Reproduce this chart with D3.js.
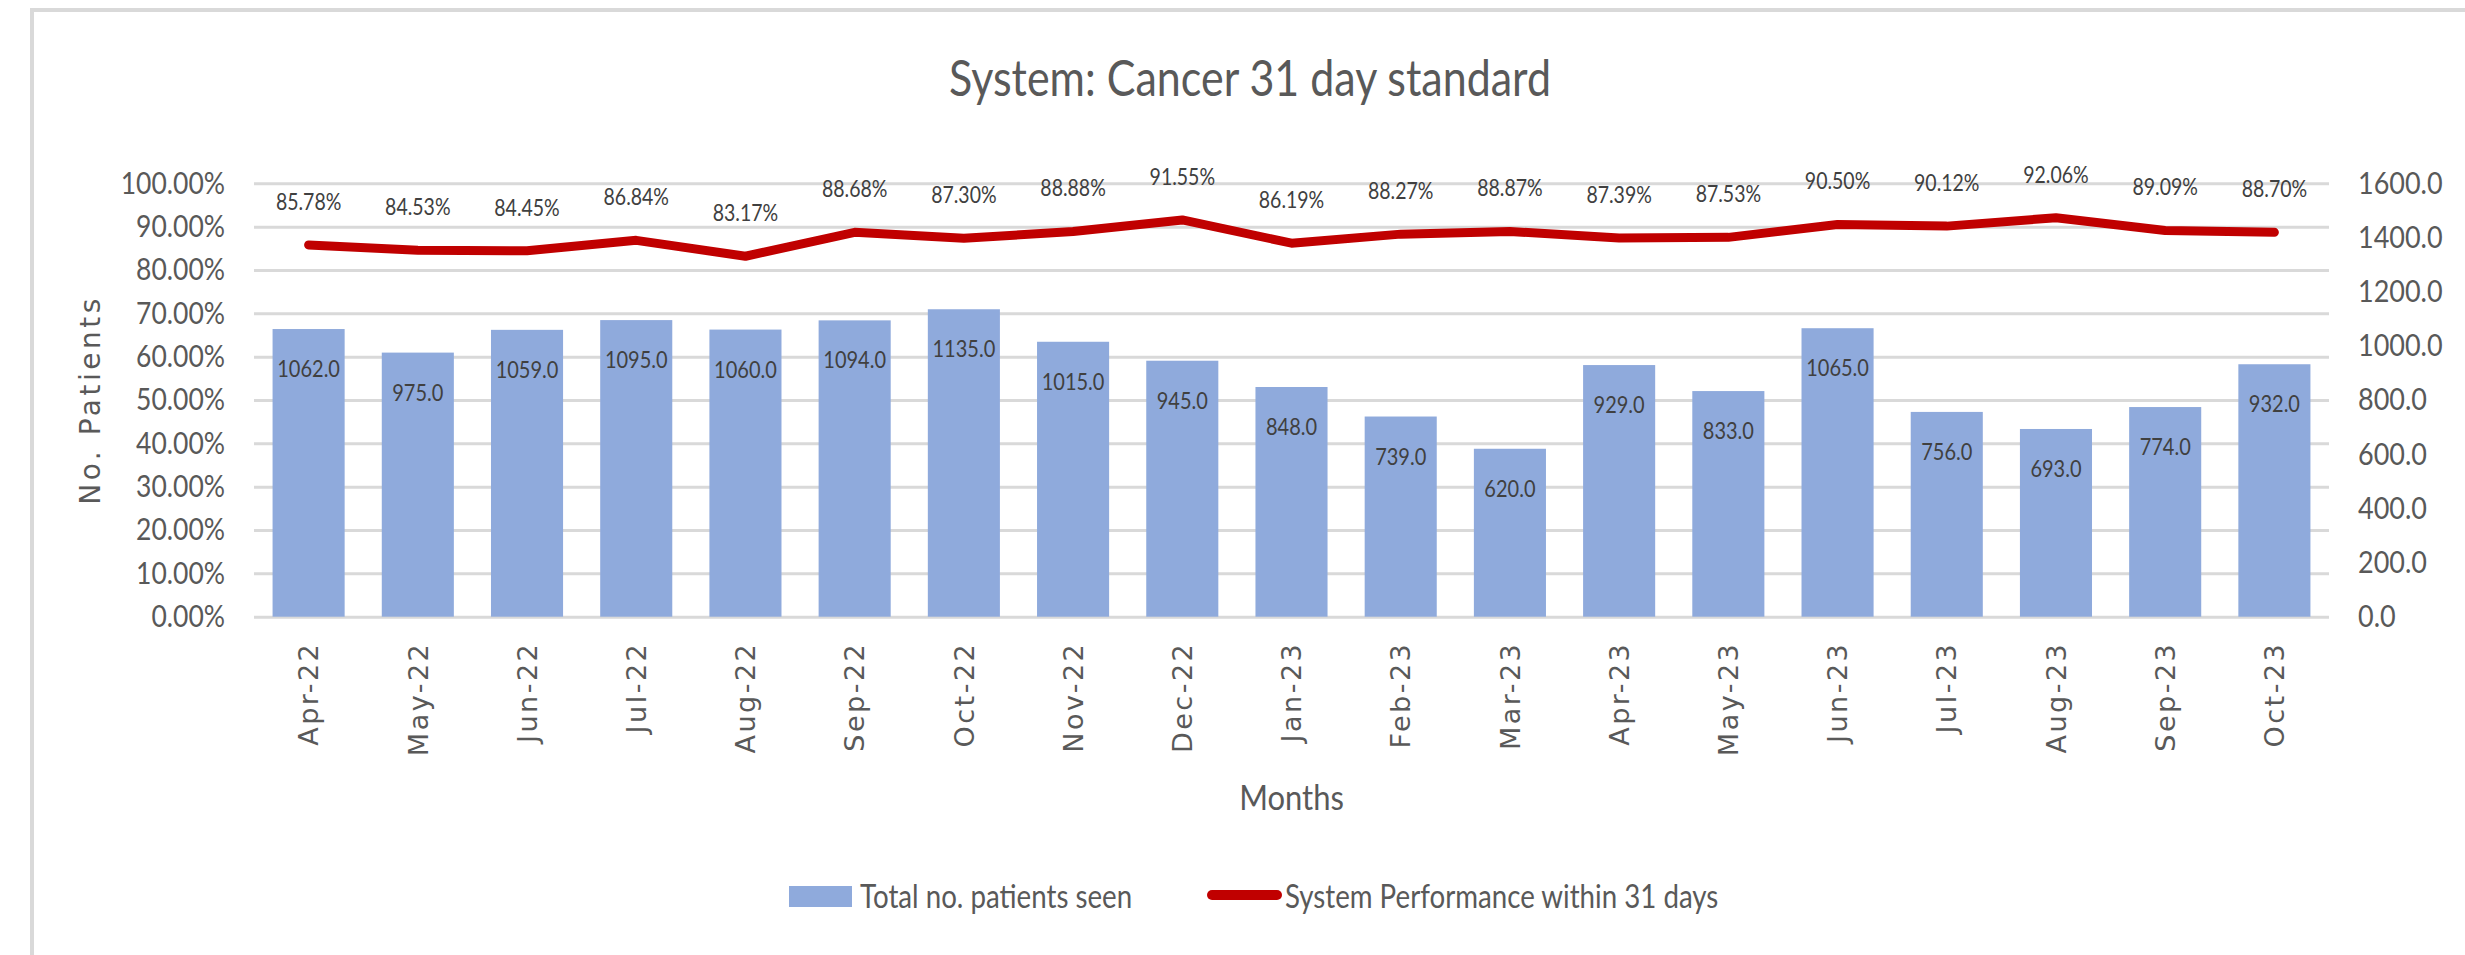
<!DOCTYPE html>
<html>
<head>
<meta charset="utf-8">
<script src="https://cdn.jsdelivr.net/npm/d3@7"></script>
<style>
  body { margin: 0; background: #fff; }
  svg text { font-family: Lato, "Open Sans", sans-serif; }
</style>
</head>
<body>
<div class="visiHolder"></div>
<script>
const months = ["Apr-22", "May-22", "Jun-22", "Jul-22", "Aug-22", "Sep-22", "Oct-22",
  "Nov-22", "Dec-22", "Jan-23", "Feb-23", "Mar-23", "Apr-23", "May-23", "Jun-23",
  "Jul-23", "Aug-23", "Sep-23", "Oct-23"];
const patients = [1062, 975, 1059, 1095, 1060, 1094, 1135, 1015, 945, 848, 739, 620,
  929, 833, 1065, 756, 693, 774, 932];
const performance = [85.78, 84.53, 84.45, 86.84, 83.17, 88.68, 87.30, 88.88, 91.55,
  86.19, 88.27, 88.87, 87.39, 87.53, 90.50, 90.12, 92.06, 89.09, 88.70];
const pctTicks = [0, 10, 20, 30, 40, 50, 60, 70, 80, 90, 100];
const countTicks = [0, 200, 400, 600, 800, 1000, 1200, 1400, 1600];

const width = 2465;
const height = 955;
const plotLeft = 254;
const plotRight = 2329;
const plotTop = 183.3;
const plotBottom = 616.7;
const stretch = 1.15; // screenshot text is a bit taller than wide

const svg = d3
  .select(".visiHolder")
  .append("svg")
  .attr("width", width)
  .attr("height", height);

// chart frame (cut off at right/bottom like the screenshot)
svg
  .append("rect")
  .attr("x", 32)
  .attr("y", 10)
  .attr("width", 2600)
  .attr("height", 1100)
  .attr("fill", "none")
  .attr("stroke", "#d9d9d9")
  .attr("stroke-width", 4);

const xScale = d3
  .scaleBand()
  .domain(months)
  .range([plotLeft, plotRight])
  .paddingInner(0.34)
  .paddingOuter(0.17);

const yPct = d3.scaleLinear().domain([0, 100]).range([plotBottom, plotTop]);
const yCount = d3.scaleLinear().domain([0, 1600]).range([plotBottom, plotTop]);

const bw = xScale.bandwidth();
const cx = (m) => xScale(m) + bw / 2;

// gridlines
svg
  .append("g")
  .attr("class", "grid")
  .attr("transform", `translate(${plotLeft}, 0)`)
  .call(d3.axisLeft(yPct).tickValues(pctTicks).tickSize(-(plotRight - plotLeft)).tickFormat(""))
  .call((g) => g.select(".domain").remove())
  .selectAll("line")
  .attr("stroke", "#d9d9d9")
  .attr("stroke-width", 3);

// left axis labels
const yAxisLeft = svg
  .append("g")
  .attr("transform", `translate(${plotLeft}, 0)`)
  .call(d3.axisLeft(yPct).tickValues(pctTicks).tickSize(0).tickPadding(29)
    .tickFormat((d) => d.toFixed(2) + "%"));
yAxisLeft.select(".domain").remove();
yAxisLeft.selectAll("text")
  .attr("fill", "#595959")
  .attr("transform", `scale(1, ${stretch})`)
  .style("font-size", "26.5px")
  .style("font-family", "Lato, sans-serif");

// right axis labels
const yAxisRight = svg
  .append("g")
  .attr("transform", `translate(${plotRight}, 0)`)
  .call(d3.axisRight(yCount).tickValues(countTicks).tickSize(0).tickPadding(29)
    .tickFormat((d) => d.toFixed(1)));
yAxisRight.select(".domain").remove();
yAxisRight.selectAll("text")
  .attr("fill", "#595959")
  .attr("transform", `scale(1, ${stretch})`)
  .style("font-size", "27px")
  .style("font-family", "Lato, sans-serif");

// bars
svg
  .selectAll("rect.bar")
  .data(patients)
  .enter()
  .append("rect")
  .attr("class", "bar")
  .attr("x", (d, i) => xScale(months[i]))
  .attr("y", (d) => yCount(d))
  .attr("width", bw)
  .attr("height", (d) => plotBottom - yCount(d))
  .attr("fill", "#8faadc");

svg
  .selectAll("text.barlabel")
  .data(patients)
  .enter()
  .append("text")
  .attr("class", "barlabel")
  .attr("transform", (d, i) => `translate(${cx(months[i])}, ${yCount(d) + 40}) scale(1, ${stretch})`)
  .attr("dy", "0.35em")
  .attr("text-anchor", "middle")
  .attr("fill", "#404040")
  .style("font-size", "20px")
  .text((d) => d.toFixed(1));

// performance line
const line = d3
  .line()
  .x((d, i) => cx(months[i]))
  .y((d) => yPct(d));

svg
  .append("path")
  .datum(performance)
  .attr("d", line)
  .attr("fill", "none")
  .attr("stroke", "#c00000")
  .attr("stroke-width", 9)
  .attr("stroke-linejoin", "round")
  .attr("stroke-linecap", "round");

svg
  .selectAll("text.linelabel")
  .data(performance)
  .enter()
  .append("text")
  .attr("class", "linelabel")
  .attr("transform", (d, i) => `translate(${cx(months[i])}, ${yPct(d) - 43}) scale(1, ${stretch})`)
  .attr("dy", "0.35em")
  .attr("text-anchor", "middle")
  .attr("fill", "#404040")
  .style("font-size", "19.5px")
  .text((d) => d.toFixed(2) + "%");

// x axis month labels
const xAxis = svg
  .append("g")
  .attr("transform", `translate(0, ${plotBottom})`)
  .call(d3.axisBottom(xScale).tickSize(0));
xAxis.select(".domain").remove();
xAxis.selectAll("text")
  .attr("transform", "rotate(-90)")
  .attr("x", -25)
  .attr("y", 0)
  .attr("dy", "0.36em")
  .style("text-anchor", "end")
  .style("font-family", "'DejaVu Sans', sans-serif")
  .style("font-size", "27px")
  .style("letter-spacing", "2.5px")
  .attr("fill", "#595959");

// titles
svg
  .append("text")
  .attr("transform", `translate(1250, 96) scale(1, ${stretch})`)
  .attr("text-anchor", "middle")
  .attr("fill", "#595959")
  .style("font-size", "43px")
  .text("System: Cancer 31 day standard");

svg
  .append("text")
  .attr("transform", "translate(90, 400) rotate(-90)")
  .attr("dy", "0.36em")
  .attr("text-anchor", "middle")
  .attr("fill", "#595959")
  .style("font-family", "'DejaVu Sans', sans-serif")
  .style("font-size", "28px")
  .style("letter-spacing", "3.5px")
  .text("No. Patients");

svg
  .append("text")
  .attr("transform", `translate(${(plotLeft + plotRight) / 2}, 798) scale(1, ${stretch})`)
  .attr("dy", "0.35em")
  .attr("text-anchor", "middle")
  .attr("fill", "#595959")
  .style("font-size", "31px")
  .text("Months");

// legend
const legend = svg.append("g");
legend
  .append("rect")
  .attr("x", 789)
  .attr("y", 886)
  .attr("width", 63)
  .attr("height", 21)
  .attr("fill", "#8faadc");
legend
  .append("text")
  .attr("transform", `translate(860, 897) scale(1, ${stretch})`)
  .attr("dy", "0.35em")
  .attr("fill", "#595959")
  .style("font-size", "27.7px")
  .text("Total no. patients seen");
legend
  .append("line")
  .attr("x1", 1212)
  .attr("x2", 1277)
  .attr("y1", 895)
  .attr("y2", 895)
  .attr("stroke", "#c00000")
  .attr("stroke-width", 10)
  .attr("stroke-linecap", "round");
legend
  .append("text")
  .attr("transform", `translate(1285, 897) scale(1, ${stretch})`)
  .attr("dy", "0.35em")
  .attr("fill", "#595959")
  .style("font-size", "27.7px")
  .text("System Performance within 31 days");
</script>
</body>
</html>
